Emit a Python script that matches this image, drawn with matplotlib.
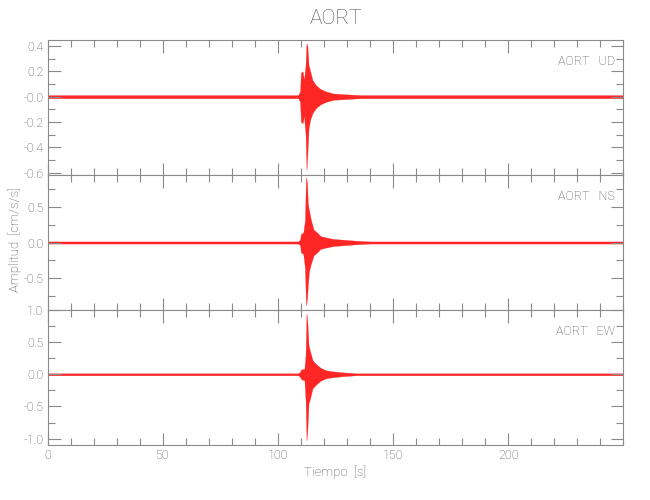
import matplotlib
matplotlib.use("Agg")
import matplotlib.pyplot as plt
from matplotlib.ticker import MultipleLocator

# ---- data (envelopes) ----
station = "AORT"
components = ["UD", "NS", "EW"]

t_ud = [0, 108.8, 109.6, 110.0, 110.7, 111.3, 112.0, 112.4, 112.8, 113.3, 114.0, 115.0, 116.5, 118.5, 121.0, 124.0, 130.0, 136.0, 250]
ud_hi = [0.012, 0.012, 0.04, 0.19, 0.20, 0.13, 0.25, 0.42, 0.40, 0.25, 0.20, 0.13, 0.09, 0.06, 0.04, 0.025, 0.018, 0.012, 0.012]
ud_lo = [-0.012, -0.012, -0.04, -0.20, -0.21, -0.15, -0.30, -0.58, -0.45, -0.25, -0.18, -0.13, -0.09, -0.06, -0.04, -0.025, -0.018, -0.012, -0.012]

t_ns = [0, 108.8, 109.6, 110.0, 111.0, 111.7, 112.2, 112.6, 113.0, 113.5, 114.3, 115.5, 117.0, 118.5, 121.0, 124.0, 128.0, 134.0, 140.0, 250]
ns_hi = [0.015, 0.015, 0.04, 0.12, 0.14, 0.30, 0.92, 0.85, 0.55, 0.45, 0.32, 0.18, 0.14, 0.09, 0.07, 0.05, 0.04, 0.025, 0.015, 0.015]
ns_lo = [-0.015, -0.015, -0.04, -0.14, -0.16, -0.35, -0.88, -0.80, -0.60, -0.40, -0.30, -0.18, -0.14, -0.09, -0.07, -0.05, -0.04, -0.025, -0.015, -0.015]

t_ew = [0, 108.8, 109.6, 110.2, 111.5, 112.0, 112.4, 112.8, 113.3, 114.0, 115.0, 116.5, 118.5, 121.0, 124.0, 128.0, 134.0, 250]
ew_hi = [0.015, 0.015, 0.04, 0.08, 0.08, 0.30, 0.95, 0.80, 0.45, 0.35, 0.22, 0.16, 0.10, 0.06, 0.045, 0.03, 0.015, 0.015]
ew_lo = [-0.015, -0.015, -0.04, -0.08, -0.09, -0.40, -1.03, -0.85, -0.45, -0.37, -0.22, -0.16, -0.10, -0.06, -0.045, -0.03, -0.015, -0.015]

ylims = [(-0.618, 0.447), (-0.95, 0.95), (-1.10, 1.0)]
yticks = [[0.4, 0.2, 0.0, -0.2, -0.4, -0.6], [0.5, 0.0, -0.5], [1.0, 0.5, 0.0, -0.5, -1.0]]
yticklabels = [["0.4", "0.2", "-0.0", "-0.2", "-0.4", "-0.6"], ["0.5", "0.0", "-0.5"],
               ["1.0", "0.5", "0.0", "-0.5", "-1.0"]]
yminor = [0.1, 0.25, 0.25]
xticks = [0, 50, 100, 150, 200]
xticklabels = ["0", "50", "100", "150", "200"]

traces = [(t_ud, ud_hi, ud_lo), (t_ns, ns_hi, ns_lo), (t_ew, ew_hi, ew_lo)]

plt.rcParams["font.family"] = ["Roboto", "DejaVu Sans"]
plt.rcParams["font.weight"] = "light"
TXT = "#505050"
AX = "#8a8a8a"

fig = plt.figure(figsize=(6.5, 5.0), dpi=100)
left, right = 47.7 / 650, 623.3 / 650
tops = [40, 175, 310]
h = 135
for i in range(3):
    ax = fig.add_axes([left, 1 - (tops[i] + h) / 500, right - left, h / 500])
    t, hi, lo = traces[i]
    ax.fill_between(t, lo, hi, color="#ff0000", alpha=0.85, linewidth=0.2, edgecolor="#ff0000")
    ax.set_xlim(0, 250)
    ax.set_ylim(*ylims[i])
    ax.set_yticks(yticks[i])
    ax.set_yticklabels(yticklabels[i])
    ax.yaxis.set_minor_locator(MultipleLocator(yminor[i]))
    ax.set_xticks(xticks)
    ax.xaxis.set_minor_locator(MultipleLocator(10))
    if i == 2:
        ax.set_xticklabels(xticklabels)
    else:
        ax.set_xticklabels([])
    ax.tick_params(which="both", direction="in", top=True, right=True, colors=AX,
                   labelcolor=TXT, labelsize=9, width=0.8)
    ax.tick_params(which="major", length=9, pad=3)
    ax.tick_params(which="minor", length=5)
    for s in ax.spines.values():
        s.set_color(AX)
        s.set_linewidth(0.8)
    ax.text(0.985, 0.84, f"{station}   {components[i]}", transform=ax.transAxes,
            ha="right", va="center", fontsize=9, color=TXT)

fig.text((left + right) / 2, 1 - 19 / 500, station, ha="center", va="center",
         fontsize=15, color=TXT)
fig.text((left + right) / 2, 1 - 472 / 500, "Tiempo  [s]", ha="center", va="center",
         fontsize=9.5, color=TXT)
fig.text(15 / 650, 1 - 240 / 500, "Amplitud  [cm/s/s]", ha="center", va="center",
         rotation=90, fontsize=9.5, color=TXT)

fig.savefig("out.png", dpi=100)
